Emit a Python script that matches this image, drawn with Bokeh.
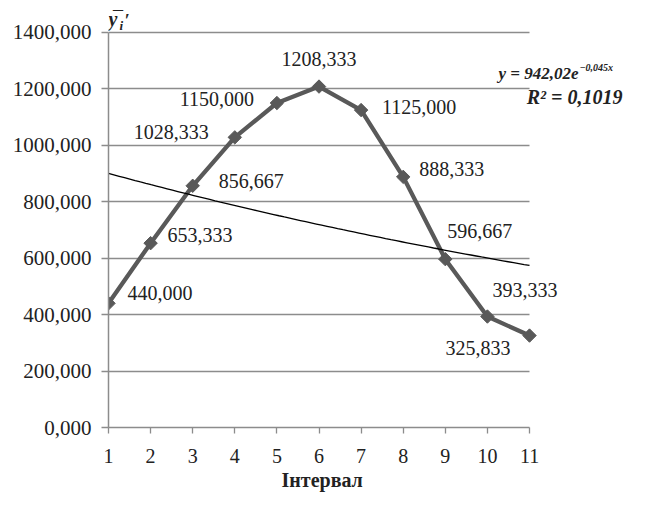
import numpy as np
from bokeh.plotting import figure
from bokeh.models import ColumnDataSource, LabelSet, Label, Range1d, FixedTicker, Title
from bokeh.embed import file_html
from bokeh.resources import INLINE

# ---------------- data ----------------
intervals = [1, 2, 3, 4, 5, 6, 7, 8, 9, 10, 11]
means = [440.000, 653.333, 856.667, 1028.333, 1150.000, 1208.333,
         1125.000, 888.333, 596.667, 393.333, 325.833]
mean_labels = ["440,000", "653,333", "856,667", "1028,333", "1150,000", "1208,333",
               "1125,000", "888,333", "596,667", "393,333", "325,833"]
y_ticks = [0, 200, 400, 600, 800, 1000, 1200, 1400]
y_tick_labels = ["0,000", "200,000", "400,000", "600,000", "800,000",
                 "1000,000", "1200,000", "1400,000"]
x_ticks = intervals
trend_a = 942.02
trend_b = -0.045
trend_equation = "y = 942,02e"
trend_exponent = "\u22120,045x"
r_squared_text = "R\u00b2 = 0,1019"
x_title = "Інтервал"

# ---------------- styling ----------------
FONT = "Liberation Serif"
GRID = "#8c8c8c"
SERIES = "#595959"
TXT = "#222222"

# label placement (pixel offsets from each point, positive dy = up)
lbl_dx = [19, 17, 26, -26, -23, 0, 21, 16, 2, 5, -19]
lbl_dy = [10, 8, 5, 5, 4, 28, 3, 8, 28, 27, -12]
lbl_align = ["left", "left", "left", "right", "right", "center",
             "left", "left", "left", "left", "right"]

# frame extends above the top tick and to the right of the last interval so
# that the annotations (title, equation, labels) are not clipped
p = figure(width=637, height=500,
           x_range=Range1d(1, 13.565), y_range=Range1d(0, 1513.4),
           output_backend="svg", toolbar_location=None,
           min_border_left=108, min_border_right=0,
           min_border_top=0, min_border_bottom=73)
p.outline_line_color = None
p.background_fill_color = "white"
p.border_fill_color = "white"

# grid
p.xgrid.visible = False
p.ygrid.grid_line_color = GRID
p.ygrid.grid_line_width = 1.3
p.ygrid.cross_bounds = (1, 11)

# y axis
p.yaxis.ticker = FixedTicker(ticks=y_ticks)
p.yaxis.major_label_overrides = {t: l for t, l in zip(y_ticks, y_tick_labels)}
p.yaxis.bounds = (0, 1400)
p.yaxis.minor_tick_line_color = None
p.yaxis.major_tick_out = 7
p.yaxis.major_tick_in = 0
p.yaxis.axis_line_color = GRID
p.yaxis.axis_line_width = 1.5
p.yaxis.major_tick_line_color = GRID
p.yaxis.major_tick_line_width = 1.3
p.yaxis.major_label_standoff = 10
p.yaxis.major_label_text_font = FONT
p.yaxis.major_label_text_font_size = "21px"
p.yaxis.major_label_text_color = TXT

# x axis
p.xaxis.ticker = FixedTicker(ticks=x_ticks)
p.xaxis.bounds = (1, 11)
p.xaxis.minor_tick_line_color = None
p.xaxis.major_tick_out = 6
p.xaxis.major_tick_in = 0
p.xaxis.axis_line_color = GRID
p.xaxis.axis_line_width = 1.5
p.xaxis.major_tick_line_color = GRID
p.xaxis.major_tick_line_width = 1.3
p.xaxis.major_label_standoff = 15
p.xaxis.major_label_text_font = FONT
p.xaxis.major_label_text_font_size = "20px"
p.xaxis.major_label_text_color = TXT

# x-axis title, placed under the 1..11 span (frame extends further right)
p.add_layout(Title(text=x_title, align="left", offset=173, standoff=2,
                   text_font=FONT, text_font_style="bold",
                   text_font_size="20px", text_color=TXT), "below")

# trend line (exponential fit shown on the chart)
tx = np.linspace(intervals[0], intervals[-1], 80)
ty = trend_a * np.exp(trend_b * tx)

src = ColumnDataSource(dict(x=intervals, y=means, text=mean_labels,
                            dx=lbl_dx, dy=lbl_dy, align=lbl_align))

p.line("x", "y", source=src, line_width=4.3, line_color=SERIES)
p.line(tx, ty, line_width=1.3, line_color="black")
p.scatter("x", "y", source=src, marker="square", angle=np.pi / 4, size=9.5,
          fill_color=SERIES, line_color=SERIES)

labels = LabelSet(x="x", y="y", text="text", source=src,
                  x_offset="dx", y_offset="dy", text_align="align",
                  text_baseline="middle", text_font=FONT,
                  text_font_size="20px", text_color=TXT)
p.add_layout(labels)

# equation
p.add_layout(Label(x=intervals[-1], y=y_ticks[-1], x_offset=49, y_offset=-41,
                   text=trend_equation, text_align="right", text_baseline="alphabetic",
                   text_font=FONT, text_font_style="bold italic",
                   text_font_size="17px", text_color=TXT))
p.add_layout(Label(x=intervals[-1], y=y_ticks[-1], x_offset=50, y_offset=-35,
                   text=trend_exponent, text_align="left", text_baseline="alphabetic",
                   text_font=FONT, text_font_style="bold italic",
                   text_font_size="10px", text_color=TXT))
p.add_layout(Label(x=intervals[-1], y=y_ticks[-1], x_offset=93, y_offset=-65,
                   text=r_squared_text, text_align="right", text_baseline="alphabetic",
                   text_font=FONT, text_font_style="bold italic",
                   text_font_size="20px", text_color=TXT))

# y-axis title: y with a bar, subscript i, prime
title_parts = [("y", 0, 13, "20px"), ("\u00af", 3, 13, "20px"),
               ("i", 11, 7, "13px"), ("\u2032", 16, 11, "18px")]
for txt, dx, dy, fs in title_parts:
    p.add_layout(Label(x=intervals[0], y=y_ticks[-1], x_offset=dx, y_offset=dy,
                       text=txt, text_align="left", text_baseline="alphabetic",
                       text_font=FONT, text_font_style="bold italic",
                       text_font_size=fs, text_color=TXT))

open("out.html", "w").write(file_html(p, INLINE))
